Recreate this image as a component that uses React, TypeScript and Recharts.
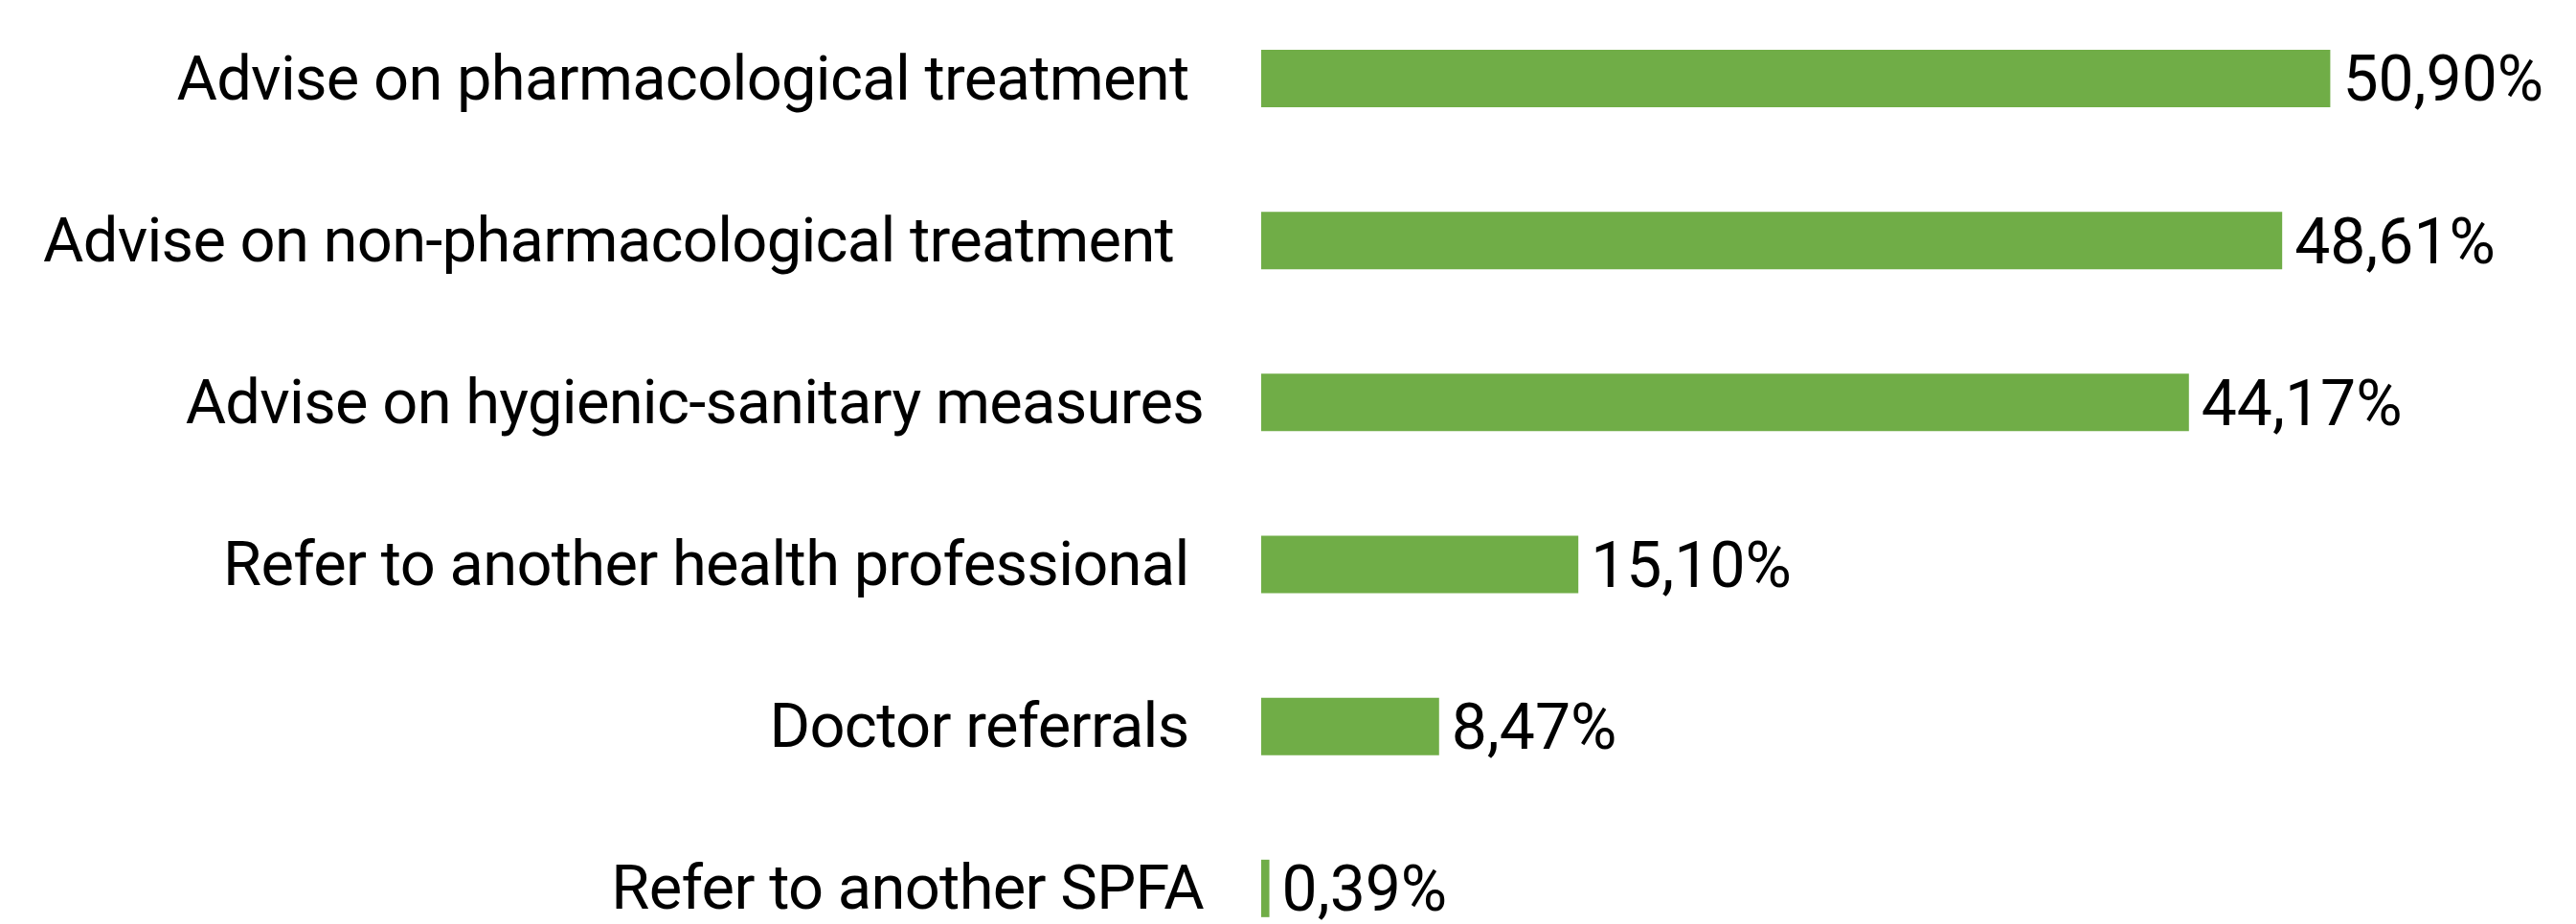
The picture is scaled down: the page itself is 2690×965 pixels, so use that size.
import React from 'react';
import { BarChart, Bar, XAxis, YAxis, LabelList } from 'recharts';

const categories = [
  'Advise on pharmacological treatment ',
  'Advise on non-pharmacological treatment  ',
  'Advise on hygienic-sanitary measures',
  'Refer to another health professional ',
  'Doctor referrals ',
  'Refer to another SPFA',
];
const values = [50.9, 48.61, 44.17, 15.1, 8.47, 0.39];

const data = categories.map((name, i) => ({ name, value: values[i] }));

const fmt = (v: any) => `${Number(v).toFixed(2).replace('.', ',')}%`;

const CatTick = (props: any) => {
  const { x, y, payload } = props;
  return (
    <text
      x={x}
      y={y}
      textAnchor="end"
      dominantBaseline="central"
      fontFamily="Roboto"
      fontSize={65}
      letterSpacing={-0.7}
      fill="#000"
      style={{ whiteSpace: 'pre' }}
    >
      {payload.value}
    </text>
  );
};

export default function App() {
  return (
    <div style={{ position: 'absolute', left: 0, top: -3, background: '#fff' }}>
      <BarChart
        width={2690}
        height={1015}
        data={data}
        layout="vertical"
        margin={{ top: 0, right: 57, bottom: 0, left: 0 }}
      >
        <XAxis type="number" domain={[0, 60]} hide />
        <YAxis
          type="category"
          dataKey="name"
          width={1317}
          axisLine={false}
          tickLine={false}
          tickSize={0}
          tickMargin={60}
          interval={0}
          tick={<CatTick />}
        />
        <Bar dataKey="value" fill="#70AD47" barSize={60} isAnimationActive={false}>
          <LabelList
            dataKey="value"
            position="right"
            offset={13}
            formatter={fmt}
            style={{ fontFamily: 'Roboto', fontSize: 66, fill: '#000' }}
          />
        </Bar>
      </BarChart>
    </div>
  );
}
